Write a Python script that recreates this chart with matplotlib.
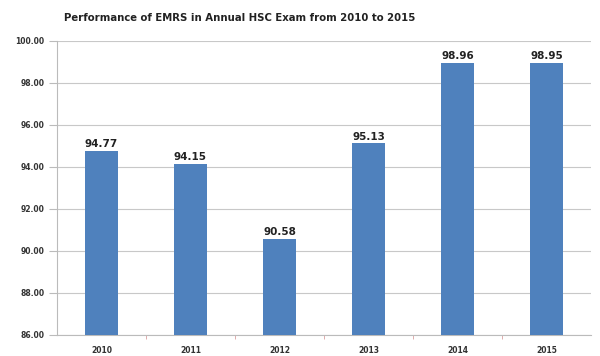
import matplotlib.pyplot as plt
import numpy as np

years = ['2010', '2011', '2012', '2013', '2014', '2015']
results = [94.77, 94.15, 90.58, 95.13, 98.96, 98.95]
yticks = [86, 88, 90, 92, 94, 96, 98, 100]

fig = plt.figure(figsize=(6, 3.56), dpi=100)
ax = fig.add_axes([0.095, 0.059, 0.89, 0.826])

x = np.arange(len(years))
bars = ax.bar(x, results, width=0.38, color='#4F81BD', zorder=3)

for xi, v in zip(x, results):
    ax.text(xi, v + 0.08, '%.2f' % v, ha='center', va='bottom',
            fontsize=7.5, fontweight='bold', color='#222222')

ax.set_ylim(86, 100)
ax.set_xlim(-0.5, len(years) - 0.5)
ax.set_yticks(yticks)
ax.set_yticklabels(['%.2f' % t for t in yticks], fontsize=5.5, fontweight='bold', color='#333333')
ax.set_xticks(x)
ax.set_xticklabels(years, fontsize=5.5, fontweight='bold', color='#333333')
ax.set_xticks(np.arange(0.5, len(years) - 0.5, 1), minor=True)
ax.tick_params(axis='x', which='major', length=0, pad=8)
ax.tick_params(axis='x', which='minor', length=3, color='#d9a0a0')
ax.tick_params(axis='y', length=6, color='#bbbbbb', pad=3)

ax.grid(axis='y', color='#c8c8c8', linewidth=0.8, zorder=0)
for s in ['top', 'right']:
    ax.spines[s].set_visible(False)
ax.spines['left'].set_color('#bbbbbb')
ax.spines['bottom'].set_color('#bbbbbb')

fig.text(0.40, 0.95, 'Performance of EMRS in Annual HSC Exam from 2010 to 2015',
         ha='center', va='center', fontsize=7.3, fontweight='bold', color='#222222')

fig.savefig('out.png', dpi=100)
